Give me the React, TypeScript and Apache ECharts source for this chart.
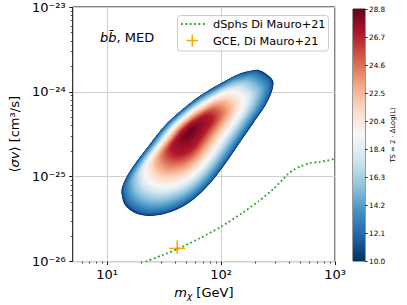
import React, { useEffect, useRef } from 'react';
import * as echarts from 'echarts';

// ---------- axes ----------
const X_MIN = 5;
const X_MAX = 1000;
const Y_MIN = 1e-26;
const Y_MAX = 1e-23;
const X_MAJOR = [10, 100, 1000];
const X_MAJOR_LABELS = ['10¹', '10²', '10³'];
const X_MINOR = [6, 7, 8, 9, 20, 30, 40, 50, 60, 70, 80, 90, 200, 300, 400, 500, 600, 700, 800, 900];
const Y_MAJOR = [1e-26, 1e-25, 1e-24, 1e-23];
const Y_MAJOR_LABELS = ['10⁻²⁶', '10⁻²⁵', '10⁻²⁴', '10⁻²³'];
const Y_MINOR = [
  2e-26, 3e-26, 4e-26, 5e-26, 6e-26, 7e-26, 8e-26, 9e-26,
  2e-25, 3e-25, 4e-25, 5e-25, 6e-25, 7e-25, 8e-25, 9e-25,
  2e-24, 3e-24, 4e-24, 5e-24, 6e-24, 7e-24, 8e-24, 9e-24,
];

// ---------- colour bar ----------
const TS_MIN = 10.0;
const TS_MAX = 28.8;
const CB_TICK_LABELS = ['10.0', '12.1', '14.2', '16.3', '18.4', '20.4', '22.5', '24.6', '26.7', '28.8'];
const RDBU_R = ['#053061', '#2166ac', '#4393c3', '#92c5de', '#d1e5f0', '#f7f7f7', '#fddbc7', '#f4a582', '#d6604d', '#b2182b', '#67001f'];

// ---------- dSphs limit (Di Mauro+21) ----------
const DSPH_MASS = [21.8, 30.2, 41.8, 66.0, 99.3, 153.5, 212.8, 294.4, 382, 434.5, 495.5, 602.6, 731, 833, 1000];
const DSPH_SIGV = [1.0e-26, 1.18e-26, 1.41e-26, 1.9e-26, 2.56e-26, 3.74e-26, 5.12e-26, 7.36e-26, 1.056e-25, 1.21e-25, 1.32e-25, 1.45e-25, 1.49e-25, 1.54e-25, 1.63e-25];

// ---------- GCE best fit (Di Mauro+21) ----------
const GCE_MASS = [41.3];
const GCE_MASS_LO = [35.1];
const GCE_MASS_HI = [48.5];
const GCE_SIGV = [1.43e-26];
const GCE_SIGV_LO = [1.24e-26];
const GCE_SIGV_HI = [1.78e-26];

// ---------- TS map ----------
const TS_PEAK_MASS = 52.5;
const TS_PEAK_SIGV = 3.36e-25;
// outer contour (TS = 10)
const TS_EDGE_MASS = [186.6, 212.8, 250.0, 288.4, 258.8, 199.1, 143.9, 104.0, 75.0, 50.8, 32.2, 20.5, 14.8, 13.4, 13.9, 16.8, 23.3, 32.2, 44.7, 65.9, 97.5, 143.9];
const TS_EDGE_SIGV = [1.782e-24, 1.816e-24, 1.629e-24, 1.3e-24, 7.91e-25, 4.59e-25, 2.443e-25, 1.3e-25, 7.57e-26, 4.81e-26, 3.67e-26, 3.51e-26, 4.41e-26, 6.31e-26, 8.28e-26, 1.3e-25, 2.333e-25, 4.02e-25, 6.03e-25, 9.04e-25, 1.242e-24, 1.629e-24];
// TS along the way from the peak (0) to the outer contour (1)
const PROFILE_S = [0, 0.27, 0.44, 0.65, 0.78, 0.9, 0.97, 1];
const PROFILE_TS = [28.8, 26.9, 23.5, 19.4, 16.3, 13.8, 11.9, 10.0];

const N_LEVELS = 94;

const lg = (v: number) => Math.log10(v);

function hexRgb(h: string) {
  return [parseInt(h.slice(1, 3), 16), parseInt(h.slice(3, 5), 16), parseInt(h.slice(5, 7), 16)];
}
function cmap(ts: number) {
  let t = (ts - TS_MIN) / (TS_MAX - TS_MIN);
  t = Math.max(0, Math.min(1, t));
  const n = RDBU_R.length - 1;
  const x = t * n;
  const i = Math.min(Math.floor(x), n - 1);
  const f = x - i;
  const a = hexRgb(RDBU_R[i]);
  const b = hexRgb(RDBU_R[i + 1]);
  const c = a.map((v, k) => Math.round(v + (b[k] - v) * f));
  return `rgb(${c[0]},${c[1]},${c[2]})`;
}
function sFromTS(ts: number) {
  for (let i = 0; i < PROFILE_TS.length - 1; i++) {
    const a = PROFILE_TS[i];
    const b = PROFILE_TS[i + 1];
    if (ts <= a && ts >= b) {
      const f = (a - ts) / (a - b);
      return PROFILE_S[i] + f * (PROFILE_S[i + 1] - PROFILE_S[i]);
    }
  }
  return ts > PROFILE_TS[0] ? 0 : 1;
}

function xLabel(v: number) {
  const i = X_MAJOR.findIndex((t) => Math.abs(lg(t) - lg(v)) < 1e-6);
  return i >= 0 ? X_MAJOR_LABELS[i] : '';
}
function yLabel(e: number) {
  const i = Y_MAJOR.findIndex((t) => Math.abs(lg(t) - e) < 1e-6);
  return i >= 0 ? Y_MAJOR_LABELS[i] : '';
}

const FONT = 'DejaVu Sans';

function buildOption() {
  const step = (TS_MAX - TS_MIN) / N_LEVELS;
  const levels: number[][] = [];
  for (let k = 0; k < N_LEVELS; k++) levels.push([TS_PEAK_MASS, lg(TS_PEAK_SIGV), TS_MIN + k * step]);

  const pu = lg(TS_PEAK_MASS);
  const pv = lg(TS_PEAK_SIGV);

  const cbStops = RDBU_R.map((c, i) => ({ offset: i / (RDBU_R.length - 1), color: RDBU_R[RDBU_R.length - 1 - i] }));

  return {
    animation: false,
    textStyle: { fontFamily: FONT, color: '#000' },
    grid: [
      { left: 65, right: 72, top: 7, bottom: 43, show: true, borderColor: '#000', borderWidth: 1, backgroundColor: 'transparent' },
      { left: 353, width: 12, top: 9, bottom: 44, show: true, borderColor: '#000', borderWidth: 0.8 },
    ],
    xAxis: [
      {
        gridIndex: 0, type: 'log', logBase: 10, min: X_MIN, max: X_MAX, position: 'bottom',
        axisLine: { show: false },
        axisTick: { show: true, length: 3.5, customValues: X_MAJOR, lineStyle: { color: '#000', width: 0.9 } },
        axisLabel: { customValues: X_MAJOR, margin: 6, fontSize: 13, color: '#000', fontFamily: FONT, formatter: (v: number) => xLabel(v) },
        splitLine: { show: true, lineStyle: { color: '#cfcfcf', width: 1 } },
        name: '{i|m}{sub|χ}{n| [GeV]}', nameLocation: 'middle', nameGap: 20,
        nameTextStyle: {
          fontFamily: FONT, fontSize: 13, color: '#000',
          rich: {
            i: { fontFamily: FONT, fontSize: 13, fontStyle: 'italic', lineHeight: 16, verticalAlign: 'middle' },
            sub: { fontFamily: FONT, fontSize: 9, fontStyle: 'italic', lineHeight: 10, verticalAlign: 'bottom' },
            n: { fontFamily: FONT, fontSize: 13, lineHeight: 16, verticalAlign: 'middle' },
          },
        },
      },
      {
        gridIndex: 0, type: 'log', logBase: 10, min: X_MIN, max: X_MAX, position: 'bottom',
        axisLine: { show: false },
        axisTick: { show: true, length: 2, customValues: X_MINOR, lineStyle: { color: '#000', width: 0.7 } },
        axisLabel: { show: false },
        splitLine: { show: false },
      },
      { gridIndex: 1, type: 'category', data: ['TS'], show: false },
    ],
    yAxis: [
      {
        // log10 of <sigma v>
        gridIndex: 0, type: 'value', min: lg(Y_MIN), max: lg(Y_MAX), interval: 1, position: 'left',
        axisLine: { show: false },
        axisTick: { show: true, length: 3.5, lineStyle: { color: '#000', width: 0.9 } },
        axisLabel: { margin: 7, fontSize: 13, color: '#000', fontFamily: FONT, formatter: (v: number) => yLabel(v) },
        splitLine: { show: true, lineStyle: { color: '#cfcfcf', width: 1 } },
        name: '{n|⟨}{i|σv}{n|⟩ [cm³/s]}', nameLocation: 'middle', nameGap: 46, nameRotate: 90,
        nameTextStyle: {
          fontFamily: FONT, fontSize: 13, color: '#000',
          rich: {
            i: { fontFamily: FONT, fontSize: 13, fontStyle: 'italic', lineHeight: 16, verticalAlign: 'middle' },
            n: { fontFamily: FONT, fontSize: 13, lineHeight: 16, verticalAlign: 'middle' },
          },
        },
      },
      {
        gridIndex: 0, type: 'value', min: lg(Y_MIN), max: lg(Y_MAX), interval: 1, position: 'left',
        axisLine: { show: false },
        axisTick: { show: true, length: 2, customValues: Y_MINOR.map(lg), lineStyle: { color: '#000', width: 0.7 } },
        axisLabel: { show: false },
        splitLine: { show: false },
      },
      {
        gridIndex: 1, type: 'value', min: 0, max: 9, interval: 1, position: 'right',
        axisLine: { show: false },
        axisTick: { show: true, length: 2.7, lineStyle: { color: '#000', width: 0.8 } },
        axisLabel: { fontSize: 7.3, margin: 4, color: '#000', fontFamily: FONT, formatter: (v: number) => CB_TICK_LABELS[Math.round(v)] ?? '' },
        splitLine: { show: false },
      },
    ],
    series: [
      {
        type: 'custom',
        name: 'TS map',
        coordinateSystem: 'cartesian2d',
        xAxisIndex: 0,
        yAxisIndex: 0,
        z: 2,
        clip: true,
        silent: true,
        data: levels,
        encode: { x: 0, y: 1 },
        renderItem: (params: any, api: any) => {
          const ts = api.value(2);
          const s = sFromTS(ts);
          const pts = TS_EDGE_MASS.map((m, i) => {
            const u = pu + s * (lg(m) - pu);
            const v = pv + s * (lg(TS_EDGE_SIGV[i]) - pv);
            return api.coord([Math.pow(10, u), v]);
          });
          return {
            type: 'polygon',
            shape: { points: pts, smooth: 0.35 },
            style: { fill: cmap(ts + step / 2) },
          };
        },
      },
      {
        type: 'line',
        name: 'dSphs Di Mauro+21',
        xAxisIndex: 0,
        yAxisIndex: 0,
        z: 3,
        symbol: 'none',
        smooth: 0.25,
        data: DSPH_MASS.map((m, i) => [m, lg(DSPH_SIGV[i])]),
        lineStyle: { color: '#2ca02c', width: 1.8, type: [1.8, 2.6] },
      },
      {
        type: 'custom',
        name: 'GCE, Di Mauro+21',
        coordinateSystem: 'cartesian2d',
        xAxisIndex: 0,
        yAxisIndex: 0,
        z: 4,
        data: GCE_MASS.map((m, i) => [m, lg(GCE_SIGV[i]), GCE_MASS_LO[i], GCE_MASS_HI[i], lg(GCE_SIGV_LO[i]), lg(GCE_SIGV_HI[i])]),
        encode: { x: 0, y: 1 },
        renderItem: (params: any, api: any) => {
          const x = api.value(0);
          const y = api.value(1);
          const c = api.coord([x, y]);
          const xl = api.coord([api.value(2), y]);
          const xh = api.coord([api.value(3), y]);
          const yl = api.coord([x, api.value(4)]);
          const yh = api.coord([x, api.value(5)]);
          const st = { stroke: '#ffa500', lineWidth: 1.5 };
          return {
            type: 'group',
            children: [
              { type: 'line', shape: { x1: xl[0], y1: c[1], x2: xh[0], y2: c[1] }, style: st },
              { type: 'line', shape: { x1: c[0], y1: yl[1], x2: c[0], y2: yh[1] }, style: st },
              { type: 'circle', shape: { cx: c[0], cy: c[1], r: 1.2 }, style: { fill: '#e69500' } },
            ],
          };
        },
      },
      {
        type: 'bar',
        name: 'colorbar',
        xAxisIndex: 2,
        yAxisIndex: 2,
        barWidth: '100%',
        silent: true,
        data: [9],
        itemStyle: { color: new echarts.graphic.LinearGradient(0, 0, 0, 1, cbStops) },
      },
    ],
    graphic: [
      {
        type: 'text', x: 100, y: 37, z: 100,
        style: {
          text: '{i|bb̄}{n|, MED}',
          fontFamily: FONT, fontSize: 13, fill: '#000', verticalAlign: 'middle',
          rich: {
            i: { fontFamily: FONT, fontSize: 13, fontStyle: 'italic' },
            n: { fontFamily: FONT, fontSize: 13 },
          },
        },
      },
      {
        type: 'rect', z: 100,
        shape: { x: 177.5, y: 15.5, width: 151, height: 35.5, r: 3 },
        style: { fill: 'rgba(255,255,255,0.8)', stroke: '#cccccc', lineWidth: 1 },
      },
      {
        type: 'line', z: 101,
        shape: { x1: 181, y1: 24, x2: 206, y2: 24 },
        style: { stroke: '#2ca02c', lineWidth: 1.8, lineDash: [1.8, 2.6] },
      },
      {
        type: 'text', x: 213, y: 24, z: 101,
        style: { text: 'dSphs Di Mauro+21', fontFamily: FONT, fontSize: 11.3, fill: '#000', verticalAlign: 'middle' },
      },
      {
        type: 'line', z: 101,
        shape: { x1: 186.5, y1: 40.5, x2: 198, y2: 40.5 },
        style: { stroke: '#ffa500', lineWidth: 1.5 },
      },
      {
        type: 'line', z: 101,
        shape: { x1: 192.25, y1: 34.5, x2: 192.25, y2: 46.5 },
        style: { stroke: '#ffa500', lineWidth: 1.5 },
      },
      {
        type: 'text', x: 213, y: 41, z: 101,
        style: { text: 'GCE, Di Mauro+21', fontFamily: FONT, fontSize: 11.3, fill: '#000', verticalAlign: 'middle' },
      },
      {
        type: 'text', x: 393, y: 135, z: 100, rotation: Math.PI / 2,
        style: { text: 'TS = 2 · ΔLog(L)', fontFamily: FONT, fontSize: 6.8, fill: '#000', align: 'center', verticalAlign: 'middle' },
      },
    ],
  };
}

export default function App() {
  const ref = useRef<HTMLDivElement>(null);
  useEffect(() => {
    if (!ref.current) return;
    const chart = echarts.init(ref.current, null, { renderer: 'svg' });
    chart.setOption(buildOption() as any);
    return () => chart.dispose();
  }, []);
  return <div ref={ref} style={{ position: 'fixed', left: 0, top: 0, width: 407, height: 305, background: '#fff' }} />;
}
